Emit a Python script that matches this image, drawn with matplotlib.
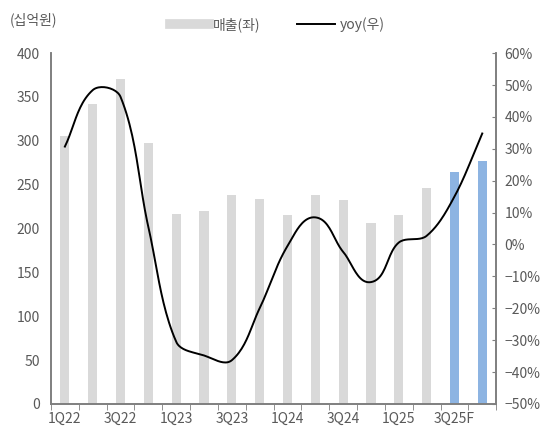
import numpy as np
import matplotlib.pyplot as plt
from matplotlib.lines import Line2D

plt.rcParams['font.family'] = ['Noto Sans CJK KR', 'DejaVu Sans']

quarters = ["1Q22", "2Q22", "3Q22", "4Q22", "1Q23", "2Q23", "3Q23", "4Q23",
            "1Q24", "2Q24", "3Q24", "4Q24", "1Q25", "2Q25", "3Q25F", "4Q25F"]
sales = [305, 342, 371, 297, 217, 220, 238, 234,
         215, 238, 233, 206, 215, 246, 264, 277]
yoy = [30.7, 48.4, 46.3, 5.5, -30.5, -34.8, -36.3, -20.0,
       -0.5, 8.5, -2.3, -11.8, 0.6, 2.7, 15.0, 34.8]
forecast = [False] * 14 + [True] * 2


def smooth(x, y, sx=27.8, sy=3.19, n=24):
    # bezier smoothing, control points scaled by segment length (Excel-like)
    P = np.column_stack([np.asarray(x, float) * sx, np.asarray(y, float) * sy])
    N = len(P)
    d = np.zeros_like(P)
    for i in range(N):
        v = P[min(i + 1, N - 1)] - P[max(i - 1, 0)]
        d[i] = v / np.hypot(*v)
    t = np.linspace(0, 1, n)[:, None]
    pts = []
    for i in range(N - 1):
        L = np.hypot(*(P[i + 1] - P[i]))
        c1 = P[i] + d[i] * L / 3
        c2 = P[i + 1] - d[i + 1] * L / 3
        seg = ((1 - t) ** 3 * P[i] + 3 * (1 - t) ** 2 * t * c1
               + 3 * (1 - t) * t ** 2 * c2 + t ** 3 * P[i + 1])
        pts.append(seg)
    pts = np.vstack(pts)
    return pts[:, 0] / sx, pts[:, 1] / sy


gray = "#7f7f7f"
txt = "#595959"

fig = plt.figure(figsize=(5.6, 4.32), dpi=100)
ax = fig.add_axes([0.091, 0.065, 0.795, 0.812])
x = np.arange(len(quarters))
colors = ["#8DB4E2" if f else "#D9D9D9" for f in forecast]
ax.bar(x, sales, width=0.33, color=colors, zorder=1)
ax.set_ylim(0, 400)
ax.set_yticks(range(0, 401, 50))
ax.set_xlim(-0.5, len(quarters) - 0.5)
ax.set_xticks(x[::2])
ax.set_xticklabels(quarters[::2])
ax.set_xticks(np.arange(-0.5, len(quarters), 1), minor=True)
ax.tick_params(axis='x', which='major', length=0, pad=6, labelsize=10, colors=txt)
ax.tick_params(axis='x', which='minor', length=4, color=gray, direction='out')
ax.tick_params(axis='y', length=0, pad=8, labelsize=10, colors=txt)

ax2 = ax.twinx()
lx, ly = smooth(x, yoy)
ax2.plot(lx, ly, color="black", lw=1.4)
ax2.set_ylim(-50, 60)
ax2.set_yticks(range(-50, 61, 10))
ax2.set_yticklabels([f"{v}%".replace("-", "\u2212") for v in range(-50, 61, 10)])
ax2.tick_params(axis='y', length=3, direction='in', color=gray, pad=6, labelsize=10, colors=txt)

for a in (ax, ax2):
    a.spines['top'].set_visible(False)
    for s in ('left', 'right', 'bottom'):
        a.spines[s].set_color(gray)
        a.spines[s].set_linewidth(1.2)

fig.text(0.018, 0.955, "(십억원)", fontsize=10, color=txt, va='center')
handles = [Line2D([], [], color="#D9D9D9", lw=7),
           Line2D([], [], color="black", lw=1.4)]
fig.legend(handles, ["매출(좌)", "yoy(우)"], loc='center', bbox_to_anchor=(0.495, 0.943),
           ncol=2, frameon=False, fontsize=10, labelcolor=txt,
           handlelength=2.8, columnspacing=2.6, handletextpad=0.3)

fig.savefig("out.png", dpi=100)
